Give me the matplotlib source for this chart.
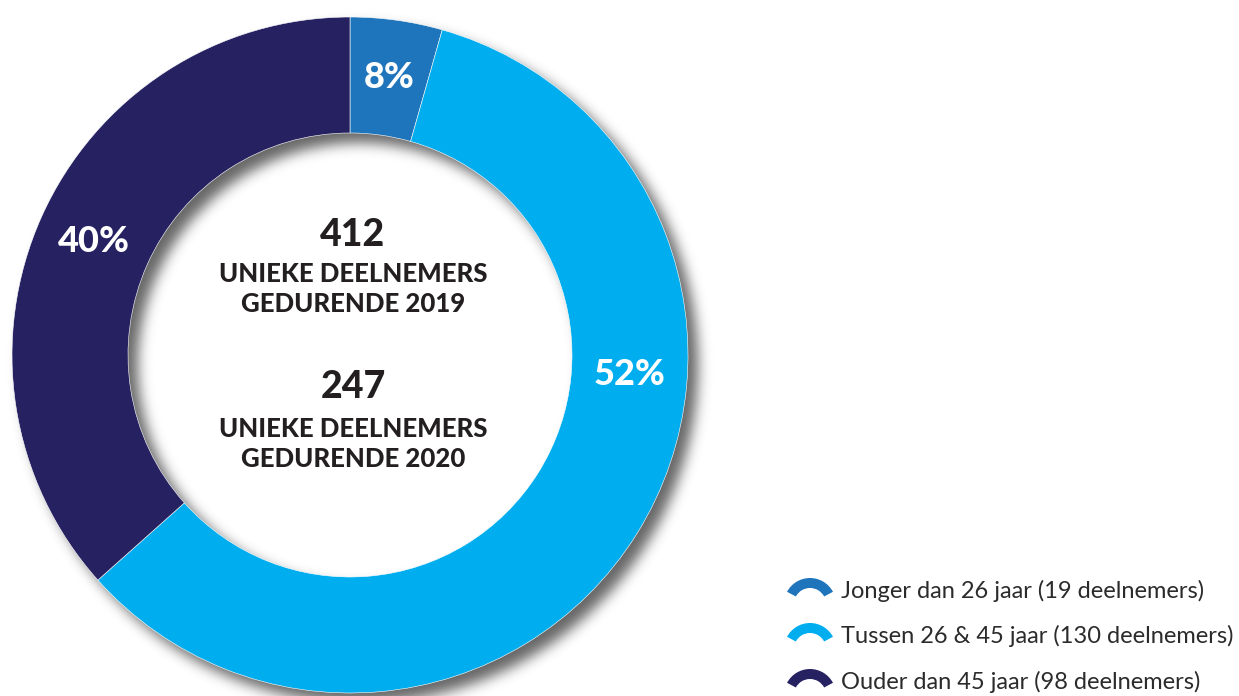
import numpy as np
import matplotlib
matplotlib.use("Agg")
import matplotlib.pyplot as plt
from matplotlib.patches import Wedge

# ---------------- data ----------------
categories = ["Jonger dan 26 jaar", "Tussen 26 & 45 jaar", "Ouder dan 45 jaar"]
participants = [19, 130, 98]
pct_labels = ["8%", "52%", "40%"]
# slice sizes as drawn in the reference picture (percent of the ring)
drawn_shares = [4.4, 59.0, 36.6]
center_numbers = ["412", "247"]
center_lines = ["UNIEKE DEELNEMERS\nGEDURENDE 2019", "UNIEKE DEELNEMERS\nGEDURENDE 2020"]

# ---------------- style ----------------
colors = ["#1f75bb", "#00aeef", "#262262"]
label_angles = [8, 94, 294]          # clockwise from top, degrees
W, H = 1239, 696
cx, cy = 350, 696 - 355
R_out, R_in = 338, 222
font = "Lato"

fig = plt.figure(figsize=(W / 100, H / 100), dpi=100)
ax = fig.add_axes([0, 0, 1, 1])

# ---- soft drop shadow ----
x0, x1, y0, y1 = 0, 760, -20, 696
xs = np.arange(x0, x1) + 0.5
ys = np.arange(y0, y1) + 0.5
XX, YY = np.meshgrid(xs, ys)
dx, dy = 10, -10
rr = np.hypot(XX - (cx + dx), YY - (cy + dy))
mask = ((rr <= R_out) & (rr >= R_in)).astype(float)
sig = 6.5
k = np.arange(-24, 25)
g = np.exp(-k**2 / (2 * sig**2)); g /= g.sum()
mask = np.apply_along_axis(lambda m: np.convolve(m, g, mode="same"), 0, mask)
mask = np.apply_along_axis(lambda m: np.convolve(m, g, mode="same"), 1, mask)
shadow = np.zeros((mask.shape[0], mask.shape[1], 4))
shadow[..., 3] = np.clip(mask * 0.6, 0, 1)
ax.imshow(shadow, extent=(x0, x1, y0, y1), origin="lower", zorder=1, interpolation="bilinear")

# ---- donut ----
wedges, _ = ax.pie(drawn_shares, colors=colors, startangle=90, counterclock=False,
                   radius=R_out, center=(cx, cy),
                   wedgeprops=dict(width=R_out - R_in, edgecolor="white", linewidth=0.4))
for w in wedges:
    w.set_zorder(2)

r_lab = (R_out + R_in) / 2
for lab, a in zip(pct_labels, label_angles):
    th = np.deg2rad(90 - a)
    ax.text(cx + r_lab * np.cos(th), cy + r_lab * np.sin(th), lab, color="white",
            fontsize=26, fontweight="black", family=font, ha="center", va="center", zorder=3)

# ---- centre text ----
num_y = [696 - 235, 696 - 387]
txt_y = [696 - 289, 696 - 444]
for n, t, ny, ty in zip(center_numbers, center_lines, num_y, txt_y):
    ax.text(cx + 3, ny, n, fontsize=27, fontweight="black", family=font, color="#231f20",
            ha="center", va="center", zorder=3)
    ax.text(cx + 3, ty, t, fontsize=18.5, fontweight="black", family=font, color="#231f20",
            ha="center", va="center", linespacing=1.32, zorder=3)

# ---- legend ----
leg_x = 810
leg_y = [696 - 591, 696 - 636, 696 - 682]
for c, cat, n, ly in zip(colors, categories, participants, leg_y):
    ax.add_patch(Wedge((leg_x, ly - 13), 26, 28, 152, width=10, facecolor=c,
                       edgecolor="none", zorder=3))
    ax.text(841, ly, f"{cat} ({n} deelnemers)", fontsize=17, family=font, color="#2b2b2b",
            ha="left", va="center", zorder=3)

ax.set_xlim(0, W)
ax.set_ylim(0, H)
ax.set_aspect("equal")
ax.axis("off")
fig.savefig("out.png", dpi=100)
